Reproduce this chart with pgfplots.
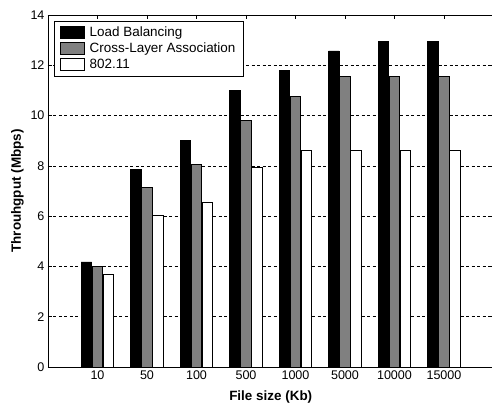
\documentclass[border=0pt]{standalone}
\usepackage{pgfplots}
\pgfplotsset{compat=1.18}
\usepackage{fontspec}
\setmainfont{Liberation Sans}
\definecolor{bargray}{RGB}{128,128,128}
\pgfplotsset{mylegend/.style={legend image code/.code={\draw[##1,line width=0.8bp] (0bp,-6bp) rectangle (24bp,6bp);}}}
\begin{document}
\begin{tikzpicture}
\useasboundingbox (-48bp,-38bp) rectangle (444bp,367bp);
\begin{axis}[
  scale only axis, width=445.5bp, height=352bp,
  xmin=0, xmax=9, ymin=0, ymax=14,
  ybar, bar width=10.5bp,
  xtick={1,...,8}, xticklabels={10,50,100,500,1000,5000,10000,15000},
  ytick={0,2,...,14},
  tick align=inside, major tick length=4bp,
  ymajorgrids,
  major grid style={black, line width=0.6bp, dash pattern=on 3bp off 2.5bp},
  axis line style={black, line width=0.8bp},
  every tick/.style={black, line width=0.6bp},
  tick label style={font=\fontsize{12.6}{15}\selectfont},
  /pgf/number format/assume math mode=true,
  xlabel={File size (Kb)}, ylabel={Throuhgput (Mbps)},
  label style={font=\fontsize{13.5}{16}\selectfont\bfseries},
  xlabel style={yshift=-5bp},
  legend style={at={(0,1)}, xshift=6bp, yshift=-6bp, anchor=north west,
    draw=black, line width=0.8bp, inner xsep=5.5bp, inner ysep=3.5bp,
    row sep=0pt, column sep=3bp,
    font=\fontsize{13.5}{16}\selectfont,
    nodes={text height=10bp, text depth=3bp, inner xsep=2bp, inner ysep=1.5bp}},
  legend cell align=left,
]
\addplot[fill=black, draw=black, line width=0.8bp, bar shift=-11bp, mylegend] coordinates {
 (1,4.18) (2,7.86) (3,9.02) (4,10.99) (5,11.79) (6,12.57) (7,12.94) (8,12.94)};
\addplot[fill=bargray, draw=black, line width=0.8bp, bar shift=0bp, mylegend] coordinates {
 (1,3.99) (2,7.13) (3,8.06) (4,9.82) (5,10.77) (6,11.57) (7,11.57) (8,11.57)};
\addplot[fill=white, draw=black, line width=0.8bp, bar shift=11bp, mylegend] coordinates {
 (1,3.69) (2,6.02) (3,6.55) (4,7.95) (5,8.63) (6,8.63) (7,8.63) (8,8.63)};
\legend{Load Balancing, Cross-Layer Association\hspace{8bp}, 802.11}
\end{axis}
\end{tikzpicture}
\end{document}
